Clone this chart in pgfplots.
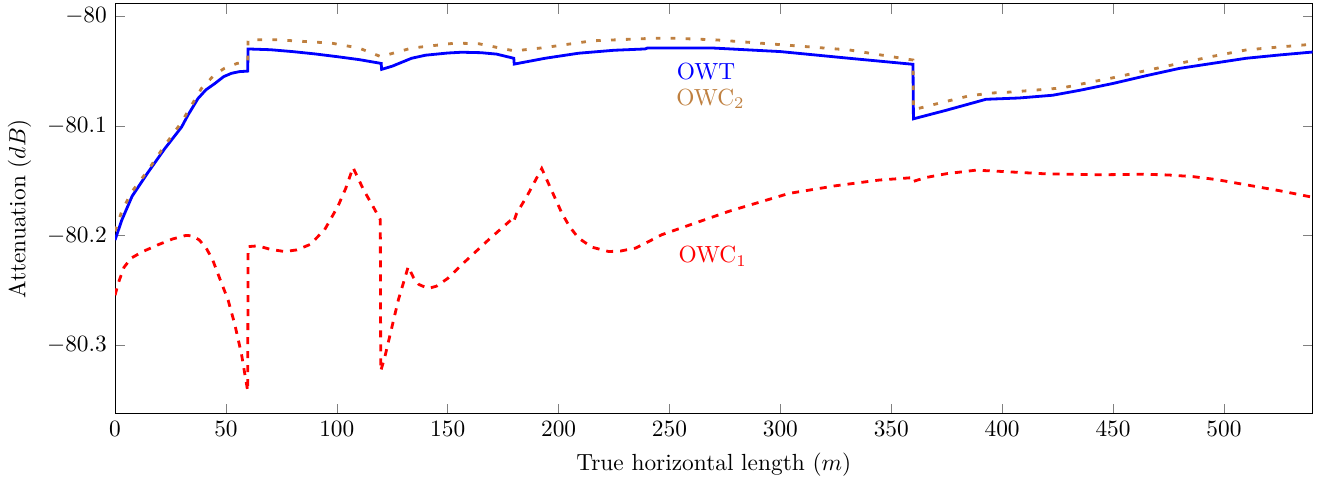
\documentclass[border=0pt]{standalone}
\usepackage{pgfplots}
\pgfplotsset{compat=1.18}
\begin{document}
\begin{tikzpicture}
\begin{axis}[
  scale only axis,
  width=513pt, height=175.5pt,
  xmin=0, xmax=540,
  ymin=-80.3622, ymax=-79.9887,
  xtick={0,50,...,500},
  ytick={-80,-80.1,-80.2,-80.3},
  yticklabel style={/pgf/number format/fixed, /pgf/number format/precision=1},
  xlabel={True horizontal length ($m$)},
  ylabel={Attenuation ($dB$)},
]
\addplot[very thick, blue] coordinates {
(0,-80.204) (3,-80.186) (7.7,-80.164) (14.8,-80.1425) (22.3,-80.121) (30,-80.101)
(32.8,-80.0904) (37.4,-80.075) (41,-80.067) (45,-80.0613) (49,-80.055) (52.5,-80.052)
(56,-80.0505) (59.8,-80.050) (60,-80.0298) (70,-80.0305) (80,-80.0322) (90,-80.0343)
(100,-80.0368) (110,-80.0395) (120,-80.043)
(120.2,-80.0484) (125,-80.0455) (133.7,-80.0383) (140,-80.0355) (150,-80.0335)
(156.3,-80.0328) (165,-80.0332) (172,-80.0345) (179.8,-80.0383) (180,-80.0436)
(193.9,-80.0383) (209,-80.0337) (225,-80.031) (239,-80.0298)
(240,-80.029) (270,-80.029) (300,-80.0322) (331,-80.0383) (359.8,-80.0438)
(360,-80.0935) (374.6,-80.0858) (392.7,-80.0757) (407.7,-80.0745) (422.8,-80.072)
(435,-80.0675) (449.9,-80.0613) (464.9,-80.0542) (480,-80.0475) (495,-80.0429)
(510,-80.0383) (525,-80.0353) (540,-80.0326)
};
\addplot[very thick, brown, dash pattern=on 2pt off 4.4pt] coordinates {
(0,-80.196) (3,-80.178) (7.2,-80.161) (15,-80.140) (22,-80.119) (30,-80.0965)
(38.9,-80.066) (45,-80.053) (49.3,-80.0475) (55,-80.043) (59.8,-80.0414)
(60,-80.0215) (73.5,-80.0215) (97.6,-80.0245) (110,-80.029) (119.8,-80.0368)
(133.7,-80.029) (153.3,-80.0245) (163.9,-80.025) (180,-80.0316) (193.9,-80.0285)
(215,-80.0224) (243.5,-80.020) (251,-80.020) (270.7,-80.0215) (300.8,-80.026)
(331,-80.0307) (359.8,-80.0399) (360,-80.0852) (372,-80.079) (385,-80.0726)
(395,-80.0700) (404.6,-80.069) (427.2,-80.0653) (440,-80.060) (449.9,-80.0561)
(465,-80.0495) (480,-80.0429) (495,-80.0365) (510,-80.0307) (525,-80.028) (540,-80.0255)
};
\addplot[very thick, red, dashed] coordinates {
(0,-80.2543) (1.5,-80.243) (4,-80.229) (7.2,-80.2206) (12,-80.215) (19.3,-80.2084)
(26,-80.203) (32,-80.1998) (35,-80.2002) (38,-80.204) (41,-80.211) (44,-80.222)
(47,-80.238) (51,-80.2589) (54,-80.281) (57,-80.3079) (59.8,-80.3416)
(60,-80.21) (64.5,-80.2093) (70,-80.2125) (76.5,-80.2145) (82,-80.213) (88,-80.208)
(94.5,-80.1946) (100.5,-80.1732) (104,-80.157) (107.3,-80.1379) (112,-80.158)
(117.1,-80.1762) (119.6,-80.1854)
(119.8,-80.3233) (121.6,-80.311) (127.7,-80.2589) (132.2,-80.2283) (134.5,-80.238)
(137,-80.2445) (141.2,-80.2482) (145,-80.246) (150,-80.239) (157.8,-80.2237)
(168.4,-80.2038) (179.6,-80.1838)
(180,-80.186) (181,-80.18) (186,-80.163) (192.4,-80.1388) (196,-80.155) (201.4,-80.1792)
(205,-80.192) (209,-80.2022) (215,-80.2105) (222.6,-80.2145) (228,-80.2140)
(234.6,-80.2114) (240,-80.206) (246.6,-80.1991) (276.8,-80.1778) (303.9,-80.1615)
(325,-80.1545) (344.6,-80.1493) (359.8,-80.1471) (360,-80.1505) (365.6,-80.147)
(375,-80.1435) (388.2,-80.1403) (400,-80.1415) (420,-80.1437) (445,-80.1445)
(463.5,-80.144) (475,-80.1447) (486.1,-80.1462) (497,-80.149) (508.7,-80.1532)
(525,-80.159) (540,-80.165)
};
\node[blue] at (axis cs:266.5,-80.050) {OWT};
\node[brown] at (axis cs:268.5,-80.075) {OWC$_2$};
\node[red] at (axis cs:269.5,-80.219) {OWC$_1$};
\end{axis}
\path (current axis.south east) -- ++(5.3pt,0);
\end{tikzpicture}
\end{document}
